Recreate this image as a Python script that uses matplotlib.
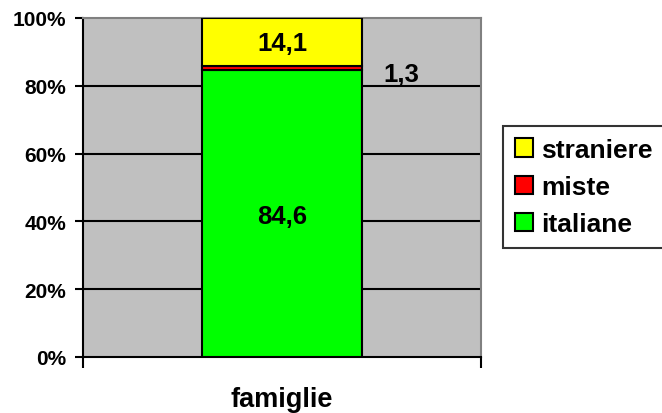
import matplotlib
matplotlib.use("Agg")
import matplotlib.pyplot as plt
from matplotlib.patches import Patch

categories = ["famiglie"]
series_names = ["italiane", "miste", "straniere"]
values = {"italiane": [84.6], "miste": [1.3], "straniere": [14.1]}
colors = {"italiane": "#00FF00", "miste": "#FF0000", "straniere": "#FFFF00"}
yticks = [0, 20, 40, 60, 80, 100]
ytick_labels = ["0%", "20%", "40%", "60%", "80%", "100%"]

plt.rcParams['font.family'] = ['Liberation Sans', 'DejaVu Sans']
plt.rcParams['font.weight'] = 'bold'

fig = plt.figure(figsize=(6.62, 4.14), dpi=100)
ax = fig.add_axes([83/662, 56/414, 398/662, 339/414])
ax.set_facecolor("#C0C0C0")

x = [0]
bottom = [0.0]
for name in series_names:
    v = values[name]
    ax.bar(x, v, width=0.4, bottom=bottom, color=colors[name],
           edgecolor="black", linewidth=1.5, zorder=3)
    bottom = [b + vv for b, vv in zip(bottom, v)]

# labels
it = values["italiane"][0]
mi = values["miste"][0]
st = values["straniere"][0]
ax.text(0, it / 2 - 0.6, f"{it:.1f}".replace(".", ","), ha="center", va="center",
        fontsize=18.5, fontweight="bold", zorder=4)
ax.text(0, it + mi + st / 2 - 0.4, f"{st:.1f}".replace(".", ","), ha="center", va="center",
        fontsize=18.5, fontweight="bold", zorder=4)
ax.text(0.3, it - 1.2, f"{mi:.1f}".replace(".", ","), ha="center", va="center",
        fontsize=18.5, fontweight="bold", zorder=4)

ax.set_xlim(-0.5, 0.5)
ax.set_ylim(0, 100)
ax.set_yticks(yticks)
ax.set_yticklabels(ytick_labels, fontsize=15, fontweight="bold")
for yv in yticks[1:-1]:
    ax.axhline(yv, color="black", linewidth=1.5, zorder=1)

ax.set_xticks([0])
ax.set_xticklabels(categories, fontsize=19.5, fontweight="bold")
ax.set_xticks([-0.5, 0.5], minor=True)
ax.tick_params(axis="x", which="major", length=0, pad=21)
ax.tick_params(axis="x", which="minor", length=8, width=1.5, direction="out")
ax.tick_params(axis="y", length=6, width=1.5, direction="out", pad=6)

for s in ["left", "bottom"]:
    ax.spines[s].set_color("black")
    ax.spines[s].set_linewidth(1.5)
for s in ["top", "right"]:
    ax.spines[s].set_color("#808080")
    ax.spines[s].set_linewidth(1.5)

handles = [Patch(facecolor=colors[n], edgecolor="black", linewidth=1.5, label=n)
           for n in reversed(series_names)]
leg = fig.legend(handles=handles, loc="upper left",
                 bbox_to_anchor=(503/662, 1 - 127/414),
                 frameon=True, fancybox=False, edgecolor="black",
                 prop={"size": 19, "weight": "bold"},
                 handlelength=0.7, handleheight=0.7, handletextpad=0.3,
                 borderpad=0.45, labelspacing=0.5, borderaxespad=0)
leg.get_frame().set_linewidth(1.5)

fig.savefig("out.png", dpi=100)
